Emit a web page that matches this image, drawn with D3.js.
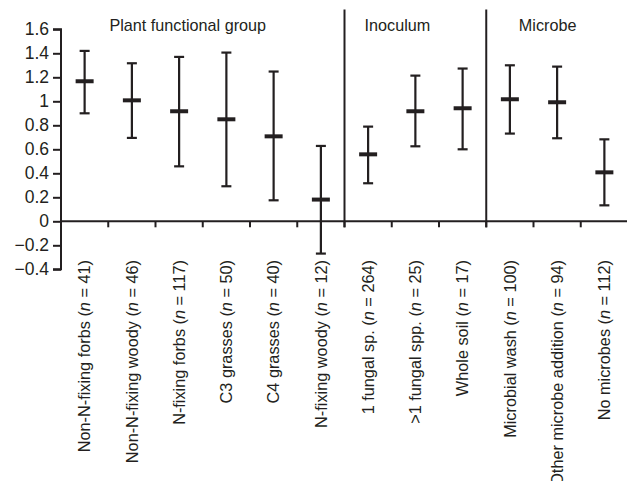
<!DOCTYPE html>
<html><head><meta charset="utf-8">
<script src="https://cdn.jsdelivr.net/npm/d3@7"></script>
<style>
body{margin:0;background:#fff;}
svg{display:block;font-family:"Liberation Sans",Arial,Helvetica,sans-serif;}
</style></head>
<body><svg id="c" width="627" height="481"></svg>
<script>
const categories = ["Non-N-fixing forbs","Non-N-fixing woody","N-fixing forbs","C3 grasses","C4 grasses","N-fixing woody","1 fungal sp.",">1 fungal spp.","Whole soil","Microbial wash","Other microbe addition","No microbes"];
const nValues = [41,46,117,50,40,12,264,25,17,100,94,112];
const means = [1.167,1.008,0.917,0.85,0.708,0.181,0.558,0.917,0.942,1.017,0.992,0.408];
const upper = [1.42,1.317,1.37,1.406,1.248,0.628,0.789,1.214,1.273,1.30,1.289,0.683];
const lower = [0.90,0.695,0.458,0.292,0.175,-0.269,0.317,0.625,0.60,0.731,0.692,0.133];
const yTicks = [1.6,1.4,1.2,1,0.8,0.6,0.4,0.2,0,-0.2,-0.4];
const yTickLabels = ["1.6","1.4","1.2","1","0.8","0.6","0.4","0.2","0","\u22120.2","\u22120.4"];
const groups = ["Plant functional group","Inoculum","Microbe"];
const groupStart = [0,6,9];
const groupEnd = [5,8,11];
const groupLabelShift = [-15,-18,-9];

const ink = "#231f20";
const svg = d3.select("#c");
const x = d3.scaleBand().domain(categories).range([61,628]).padding(0);
const y = d3.scaleLinear().domain([-0.4,1.6]).range([269.3,29.3]);

// y axis
const yAxis = d3.axisLeft(y).tickValues(yTicks).tickSize(8).tickPadding(4)
  .tickFormat((d,i)=>yTickLabels[i]);
const gy = svg.append("g").attr("transform","translate(61,0)").call(yAxis);
gy.select(".domain").attr("stroke",ink).attr("stroke-width",2).attr("d",`M-8,${y(1.6)}H0V${y(-0.4)}H-8`);
gy.selectAll(".tick line").attr("stroke",ink).attr("stroke-width",2);
gy.selectAll(".tick text").attr("fill",ink).style("font-size","17.5px").style("font-family","'Liberation Sans',Arial,sans-serif");

// x axis line at zero
const y0 = y(0);
svg.append("line").attr("x1",61).attr("x2",627).attr("y1",y0).attr("y2",y0)
  .attr("stroke",ink).attr("stroke-width",2);
// ticks at band boundaries
const bounds = categories.slice(1).map(c=>x(c));
svg.selectAll("line.xt").data(bounds).enter().append("line").attr("class","xt")
  .attr("x1",d=>d).attr("x2",d=>d).attr("y1",y0).attr("y2",y0+6)
  .attr("stroke",ink).attr("stroke-width",2);

// group dividers
const dividers = groupStart.slice(1).map(i=>x(categories[i]));
svg.selectAll("line.div").data(dividers).enter().append("line").attr("class","div")
  .attr("x1",d=>d).attr("x2",d=>d).attr("y1",9.5).attr("y2",y0+6)
  .attr("stroke",ink).attr("stroke-width",2);

// group labels
svg.selectAll("text.grp").data(groups).enter().append("text").attr("class","grp")
  .attr("x",(d,i)=>{
    const a = x(categories[groupStart[i]]);
    const b = Math.min(x(categories[groupEnd[i]]) + x.bandwidth(), 627);
    return (a+b)/2 + groupLabelShift[i];
  })
  .attr("y",31).attr("text-anchor","middle").attr("fill",ink)
  .style("font-size","16.2px").text(d=>d);

// error bars
const cx = c=>x(c)+x.bandwidth()/2;
const bars = svg.append("g");
categories.forEach((c,i)=>{
  const X = cx(c);
  bars.append("line").attr("x1",X).attr("x2",X).attr("y1",y(upper[i])).attr("y2",y(lower[i]))
    .attr("stroke",ink).attr("stroke-width",2.2);
  [upper[i],lower[i]].forEach(v=>{
    bars.append("line").attr("x1",X-5).attr("x2",X+5).attr("y1",y(v)).attr("y2",y(v))
      .attr("stroke",ink).attr("stroke-width",2.2);
  });
  bars.append("line").attr("x1",X-9).attr("x2",X+9).attr("y1",y(means[i])).attr("y2",y(means[i]))
    .attr("stroke",ink).attr("stroke-width",4);
});

// x labels
const lab = svg.append("g");
categories.forEach((c,i)=>{
  const t = lab.append("text")
    .attr("transform",`translate(${cx(c)},260) rotate(-90)`)
    .attr("text-anchor","end").attr("dy","0.35em").attr("fill",ink)
    .style("font-size","16.3px");
  t.append("tspan").text(c+" (");
  t.append("tspan").style("font-style","italic").text("n");
  t.append("tspan").text(" = "+nValues[i]+")");
});
</script></body></html>
